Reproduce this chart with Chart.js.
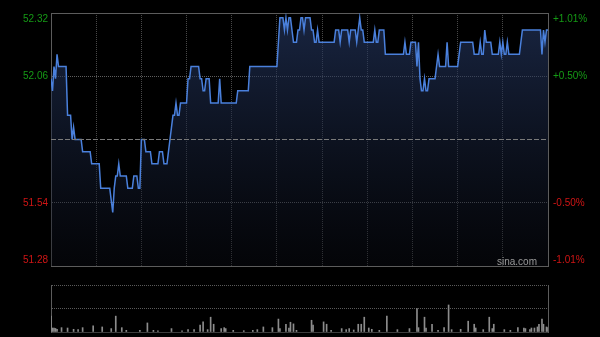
<!DOCTYPE html>
<html>
<head>
<meta charset="utf-8">
<script src="https://cdn.jsdelivr.net/npm/chart.js@4"></script>
<style>
  html, body { margin: 0; background: #000; }
  #wrap { position: relative; width: 600px; height: 337px; }
  #wrap canvas { position: absolute; left: 0; top: 0; }
</style>
</head>
<body>
<div id="wrap">
  <canvas id="price" width="600" height="337"></canvas>
  <canvas id="volume" width="600" height="337"></canvas>
</div>
<script>
// intraday price, previous close and axis labels
const prevClose = 51.80;
const priceTicks = [51.28, 51.54, 51.80, 52.06, 52.32];
const priceLabels = ['51.28', '51.54', '51.80', '52.06', '52.32'];
const pctLabels = ['-1.01%', '-0.50%', '0.00%', '+0.50%', '+1.01%'];
const timeTicks = [0, 30, 60, 90, 120, 150, 180, 210, 240, 270, 300, 330];

// minute index / price at each turning point of the line
const priceMinutes = [
  0, 1, 2, 3, 4, 5, 10, 11, 13, 14, 15, 16, 20, 21, 26, 27, 32, 33, 39,
  40, 41, 42, 43, 44, 45, 46, 50, 51, 54, 55, 57, 58, 59, 60, 62, 63, 66,
  67, 71, 72, 74, 75, 77, 78, 79, 80, 81, 82, 83, 84, 85, 86, 90, 91, 92,
  93, 98, 99, 100, 101, 102, 103, 105, 106, 111, 112, 113, 123, 124, 131,
  132, 150, 151, 152, 154, 155, 156, 157, 158, 159, 160, 161, 163, 164, 165,
  166, 167, 168, 169, 172, 173, 174, 175, 176, 177, 178, 188, 189, 191, 192,
  193, 197, 198, 199, 202, 203, 204, 205, 206, 207, 208, 214, 215, 216, 217,
  218, 221, 222, 234, 235, 236, 238, 239, 242, 243, 244, 245, 246, 247, 248,
  249, 250, 251, 255, 256, 257, 258, 262, 263, 264, 270, 271, 272, 280, 281,
  284, 285, 286, 287, 288, 289, 292, 293, 297, 298, 299, 300, 301, 302, 303,
  304, 311, 312, 313, 325, 326, 327, 328, 329, 330
];
const priceValues = [
  52.05, 52.00, 52.10, 52.05, 52.15, 52.10, 52.10, 51.90, 51.90, 51.80, 51.85, 51.80, 51.80, 51.75, 51.75, 51.70, 51.70, 51.60, 51.60,
  51.55, 51.50, 51.60, 51.65, 51.65, 51.70, 51.65, 51.65, 51.60, 51.60, 51.65, 51.65, 51.60, 51.60, 51.80, 51.80, 51.75, 51.75,
  51.70, 51.70, 51.75, 51.75, 51.70, 51.70, 51.75, 51.80, 51.85, 51.90, 51.90, 51.95, 51.90, 51.90, 51.95, 51.95, 52.05, 52.05,
  52.10, 52.10, 52.05, 52.05, 52.00, 52.00, 52.05, 52.05, 51.95, 51.95, 52.05, 51.95, 51.95, 52.00, 52.00,
  52.10, 52.10, 52.20, 52.30, 52.30, 52.25, 52.30, 52.25, 52.30, 52.30, 52.25, 52.20, 52.20, 52.25, 52.25,
  52.30, 52.30, 52.25, 52.30, 52.30, 52.25, 52.25, 52.20, 52.20, 52.25, 52.20, 52.20, 52.25, 52.25, 52.20,
  52.25, 52.25, 52.20, 52.25, 52.25, 52.20, 52.25, 52.30, 52.25, 52.25, 52.20, 52.20, 52.25, 52.20, 52.20,
  52.25, 52.25, 52.15, 52.15, 52.20, 52.15, 52.15, 52.20, 52.20, 52.10, 52.20, 52.05, 52.00, 52.00, 52.05,
  52.00, 52.00, 52.05, 52.05, 52.10, 52.15, 52.10, 52.10, 52.20, 52.10, 52.10, 52.15, 52.20, 52.20, 52.15,
  52.15, 52.20, 52.15, 52.15, 52.25, 52.20, 52.20, 52.15, 52.15, 52.20, 52.15, 52.20, 52.15, 52.15, 52.20,
  52.15, 52.15, 52.20, 52.25, 52.25, 52.15, 52.25, 52.20, 52.25, 52.25
];

// volume bars (minute index / shares)
const volMinutes = [
  0, 1, 2, 3, 4, 7, 11, 15, 18, 21, 28, 34, 40, 43, 47, 50, 59, 64, 68, 71,
  80, 87, 91, 95, 99, 101, 104, 106, 108, 113, 115, 116, 121, 128, 134, 137,
  141, 147, 151, 152, 156, 158, 159, 161, 163, 173, 174, 181, 183, 186, 193,
  196, 198, 201, 204, 206, 208, 211, 213, 218, 223, 230, 238, 243, 244, 248,
  249, 253, 257, 261, 264, 266, 272, 277, 281, 282, 287, 291, 293, 294, 301,
  305, 310, 314, 315, 318, 319, 321, 323, 324, 326, 327, 329, 330
];
const volValues = [
  13500, 3400, 3400, 3000, 2300, 3700, 3400, 2300, 2000, 3700, 5200, 4300, 2900, 13500, 3700, 1400, 1400, 7700, 1400, 1100,
  2900, 1100, 2000, 2000, 5800, 8600, 2000, 12600, 6600, 2900, 3700, 2900, 1400, 1100, 1400, 2000,
  4300, 3700, 11000, 2900, 6600, 3400, 8300, 6900, 1400, 10000, 5800, 8600, 6600, 1400, 2900,
  2000, 2900, 1700, 6600, 6600, 12600, 3400, 2300, 1400, 13500, 2000, 2900, 20000, 3700, 12600,
  3400, 6600, 1400, 3700, 23000, 2000, 2300, 9200, 6600, 3400, 2000, 12600, 2900, 6600, 2000,
  1400, 3700, 3400, 2900, 2000, 3400, 3400, 4300, 6600, 11000, 6600, 4300, 3700
];
const volTicks = [0, 20000, 40000];

const FONT = '10px "Liberation Sans", Arial, sans-serif';
const FRAME = '#5c5c5c';
const clear = 'rgba(0,0,0,0)';

// price / percent labels on both sides, plus the watermark
const axisLabels = {
  id: 'axisLabels',
  afterDraw(chart) {
    const { ctx, chartArea, scales } = chart;
    ctx.save();
    ctx.font = FONT;
    ctx.textBaseline = 'middle';
    priceTicks.forEach((v, i) => {
      if (v === prevClose) return;
      let py = scales.y.getPixelForValue(v);
      py = Math.min(Math.max(py, chartArea.top + 6), chartArea.bottom - 6);
      ctx.fillStyle = v > prevClose ? '#159a15' : '#d01515';
      ctx.textAlign = 'right';
      ctx.fillText(priceLabels[i], chartArea.left - 3, py);
      ctx.textAlign = 'left';
      ctx.fillText(pctLabels[i], chartArea.right + 5, py);
    });
    ctx.fillStyle = '#9a9a9a';
    ctx.textAlign = 'right';
    ctx.textBaseline = 'alphabetic';
    ctx.fillText('sina.com', chartArea.right - 11, chartArea.bottom - 1);
    ctx.restore();
  }
};

function frameAxis(position) {
  const horiz = position === 'top' || position === 'bottom';
  return {
    type: 'linear',
    position: position,
    min: horiz ? 0 : 0,
    max: horiz ? 330 : 1,
    ticks: { display: false },
    grid: { display: false },
    border: { color: FRAME },
    afterFit: s => { if (horiz) s.height = 0; else s.width = 0; }
  };
}

new Chart(document.getElementById('price'), {
  type: 'line',
  data: {
    datasets: [
      {
        // previous close
        data: [{ x: 0, y: prevClose }, { x: 330, y: prevClose }],
        borderColor: '#7a7a7a',
        borderWidth: 1,
        borderDash: [5, 2],
        pointRadius: 0,
        fill: false
      },
      {
        data: priceMinutes.map((m, i) => ({ x: m, y: priceValues[i] })),
        borderColor: '#4a80dc',
        borderWidth: 1.5,
        pointRadius: 0,
        tension: 0,
        fill: 'start',
        backgroundColor: c => {
          const a = c.chart.chartArea;
          if (!a) return clear;
          const g = c.chart.ctx.createLinearGradient(0, a.top, 0, a.bottom);
          g.addColorStop(0, 'rgba(40,60,106,0.62)');
          g.addColorStop(1, 'rgba(10,12,20,0.4)');
          return g;
        }
      }
    ]
  },
  options: {
    responsive: false,
    animation: false,
    events: [],
    layout: { padding: { top: 13, bottom: 71, left: 51, right: 52 } },
    plugins: { legend: { display: false }, tooltip: { enabled: false } },
    scales: {
      x: {
        type: 'linear', min: 0, max: 330,
        afterBuildTicks: s => { s.ticks = timeTicks.map(v => ({ value: v })); },
        afterFit: s => { s.height = 0; },
        ticks: { display: false },
        grid: {
          drawTicks: false,
          color: c => (c.tick && (c.tick.value === 0 || c.tick.value === 330)) ? clear : '#484848'
        },
        border: { color: FRAME, dash: [1, 1] }
      },
      y: {
        min: 51.28, max: 52.32,
        afterBuildTicks: s => { s.ticks = priceTicks.map(v => ({ value: v })); },
        afterFit: s => { s.width = 0; },
        ticks: { display: false },
        grid: {
          drawTicks: false,
          color: c => (c.tick && [51.28, prevClose, 52.32].includes(c.tick.value)) ? clear : '#5e5e5e'
        },
        border: { color: FRAME, dash: [1, 1] }
      },
      xTop: frameAxis('top'),
      yRight: frameAxis('right')
    }
  },
  plugins: [axisLabels]
});

new Chart(document.getElementById('volume'), {
  type: 'bar',
  data: {
    datasets: [{
      data: volMinutes.map((m, i) => ({ x: m, y: volValues[i] })),
      backgroundColor: '#8c8c8c',
      barThickness: 1,
      grouped: false
    }]
  },
  options: {
    responsive: false,
    animation: false,
    events: [],
    layout: { padding: { top: 285, bottom: 5, left: 51, right: 52 } },
    plugins: { legend: { display: false }, tooltip: { enabled: false } },
    scales: {
      x: {
        type: 'linear', min: 0, max: 330, offset: false,
        ticks: { display: false },
        grid: { display: false },
        border: { color: '#3c3c3c' },
        afterFit: s => { s.height = 0; }
      },
      y: {
        min: 0, max: 40000,
        afterBuildTicks: s => { s.ticks = volTicks.map(v => ({ value: v })); },
        afterFit: s => { s.width = 0; },
        ticks: { display: false },
        grid: {
          drawTicks: false,
          color: c => (c.tick && c.tick.value > 0) ? '#5a5a5a' : clear
        },
        border: { color: FRAME, dash: [1, 1] }
      },
      yRight: frameAxis('right')
    }
  }
});
</script>
</body>
</html>
